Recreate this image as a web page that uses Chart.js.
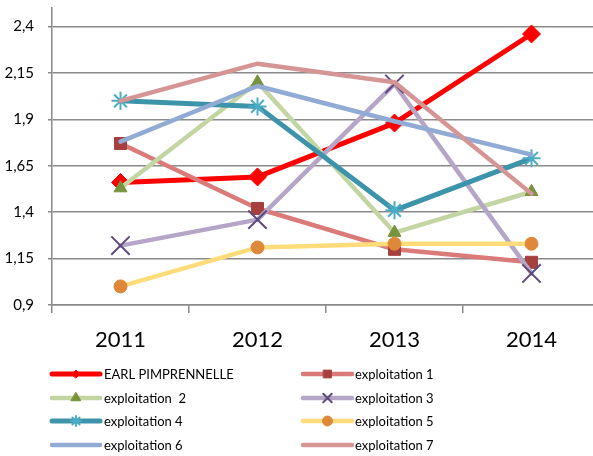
<!DOCTYPE html>
<html>
<head>
<meta charset="utf-8">
<script src="https://cdn.jsdelivr.net/npm/chart.js@4.4.0/dist/chart.umd.min.js"></script>
<style>
  html, body { margin: 0; padding: 0; background: #fff; overflow: hidden; }
  #wrap { width: 600px; height: 456px; }
</style>
</head>
<body>
<div id="wrap"><canvas id="chart" width="600" height="456"></canvas></div>
<script>
// ---------- DATA ----------
const years = ['2011', '2012', '2013', '2014'];
const seriesNames = ['EARL PIMPRENNELLE', 'exploitation 1', 'exploitation  2', 'exploitation 3',
                     'exploitation 4', 'exploitation 5', 'exploitation 6', 'exploitation 7'];
const earl  = [1.56, 1.59, 1.88, 2.36];
const expl1 = [1.77, 1.42, 1.20, 1.13];
const expl2 = [1.53, 2.10, 1.29, 1.51];
const expl3 = [1.22, 1.36, 2.09, 1.07];
const expl4 = [2.00, 1.97, 1.41, 1.69];
const expl5 = [1.00, 1.21, 1.23, 1.23];
const expl6 = [1.78, 2.08, 1.89, 1.71];
const expl7 = [2.00, 2.20, 2.10, 1.50];
const yTicks = [0.9, 1.15, 1.4, 1.65, 1.9, 2.15, 2.4];
const yTickLabels = ['0,9', '1,15', '1,4', '1,65', '1,9', '2,15', '2,4'];

// ---------- STYLES ----------
const styles = [
    { line: '#ff0000', mark: '#ff0000', shape: 'rectRot',  r: 9,   lr: 4,   w: 5 },
    { line: '#da7b7a', mark: '#a5403e', shape: 'rect',     r: 8.5, lr: 5.5, w: 4.5 },
    { line: '#c4d5a4', mark: '#77933c', shape: 'triangle', r: 7.5, lr: 5.5, w: 4.5 },
    { line: '#b5a6c8', mark: '#604a7b', shape: 'crossRot', r: 13,  lr: 6,   w: 4.5, stroke: true },
    { line: '#3d94aa', mark: '#4bacc6', shape: 'star',     r: 9,   lr: 5,   w: 5,   stroke: true },
    { line: '#ffdc7a', mark: '#e0883a', shape: 'circle',   r: 6.5, lr: 5,   w: 4.5 },
    { line: '#91abd4', mark: '#91abd4', shape: false,      r: 0,   lr: 0,   w: 4.5 },
    { line: '#d59594', mark: '#d59594', shape: false,      r: 0,   lr: 0,   w: 4.5 }
];
const values = [earl, expl1, expl2, expl3, expl4, expl5, expl6, expl7];

const datasets = values.map((vals, i) => {
    const s = styles[i];
    return {
        label: seriesNames[i],
        data: vals,
        borderColor: s.line,
        borderWidth: s.w,
        borderCapStyle: 'round',
        borderJoinStyle: 'round',
        pointStyle: s.shape,
        pointRadius: s.r,
        pointBackgroundColor: s.mark,
        pointBorderColor: s.mark,
        pointBorderWidth: s.stroke ? 2 : 1,
        tension: 0,
        order: values.length - 1 - i   // later series drawn on top, like the original
    };
});

// ---------- LEGEND (two columns under the plot) ----------
const gridLegend = {
    id: 'gridLegend',
    afterDraw(chart) {
        const ctx = chart.ctx;
        const cols = [{ x0: 52, x1: 100, tx: 104 }, { x0: 303, x1: 352, tx: 355 }];
        const rows = [374, 398, 421, 445];
        chart.data.datasets.forEach((ds, i) => {
            const c = cols[i % 2];
            const y = rows[Math.floor(i / 2)];
            const s = styles[i];
            ctx.save();
            ctx.strokeStyle = ds.borderColor;
            ctx.lineWidth = ds.borderWidth;
            ctx.lineCap = 'round';
            ctx.beginPath();
            ctx.moveTo(c.x0, y);
            ctx.lineTo(c.x1, y);
            ctx.stroke();
            if (s.shape) {
                ctx.fillStyle = s.mark;
                ctx.strokeStyle = s.mark;
                ctx.lineWidth = s.stroke ? 2 : 1;
                Chart.helpers.drawPoint(ctx, { pointStyle: s.shape, radius: s.lr, rotation: 0, borderWidth: ctx.lineWidth }, (c.x0 + c.x1) / 2, y);
            }
            ctx.fillStyle = '#000';
            ctx.font = '13px Lato';
            ctx.textBaseline = 'middle';
            ctx.textAlign = 'left';
            ctx.fillText(ds.label, c.tx, y + 1);
            ctx.restore();
        });
    }
};

new Chart(document.getElementById('chart'), {
    type: 'line',
    data: { labels: years, datasets: datasets },
    options: {
        responsive: false,
        animation: false,
        layout: { autoPadding: false, padding: { top: 8, right: 0, bottom: 0, left: 0 } },
        plugins: { legend: { display: false }, tooltip: { enabled: false } },
        scales: {
            x: {
                offset: true,
                grid: { display: true, drawOnChartArea: false, offset: true, tickLength: 8, color: '#8a8a8a', lineWidth: 1.5 },
                border: { display: true, color: '#8a8a8a', width: 1.5 },
                ticks: { color: '#000', font: { family: 'Lato', size: 22 }, padding: 14 },
                afterFit(s) { s.height = 151; s.paddingLeft = 0; s.paddingRight = 0; }
            },
            y: {
                min: 0.9,
                max: 2.5,
                afterBuildTicks(s) { s.ticks = yTicks.map(v => ({ value: v })); },
                grid: { color: '#8a8a8a', lineWidth: 1.5, tickLength: 4 },
                border: { display: true, color: '#8a8a8a', width: 1.5 },
                ticks: {
                    color: '#000',
                    font: { family: 'Lato', size: 15 },
                    padding: 14,
                    callback: (v) => yTickLabels[yTicks.findIndex(t => Math.abs(t - v) < 1e-6)]
                },
                afterFit(s) { s.width = 52; s.paddingTop = 0; s.paddingBottom = 0; }
            }
        }
    },
    plugins: [gridLegend]
});
</script>
</body>
</html>
